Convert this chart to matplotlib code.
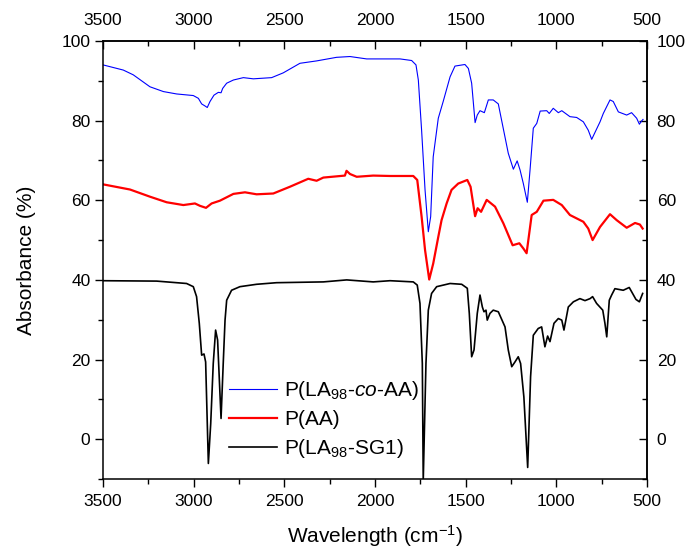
import matplotlib
matplotlib.use("Agg")
import matplotlib.pyplot as plt
from matplotlib.ticker import FixedLocator

plt.rcParams['font.family'] = ['Liberation Sans', 'DejaVu Sans']
plt.rcParams['mathtext.fontset'] = 'custom'
plt.rcParams['mathtext.rm'] = 'Liberation Sans'
plt.rcParams['mathtext.it'] = 'Liberation Sans:italic'

# axis ticks
x_major = [3500, 3000, 2500, 2000, 1500, 1000, 500]
x_minor = [3250, 2750, 2250, 1750, 1250, 750]
y_major = [0, 20, 40, 60, 80, 100]
y_minor = [-10, 10, 30, 50, 70, 90]

# P(LA98-co-AA), blue
wn_coaa = [3500, 3388, 3333, 3241, 3167, 3094, 3002, 2974, 2956, 2938, 2925, 2910, 2888,
           2864, 2849, 2840, 2818, 2781, 2726, 2671, 2570, 2506, 2414, 2322, 2212, 2138,
           2046, 1972, 1862, 1798, 1774, 1761, 1743, 1724, 1706, 1693, 1679, 1651, 1624,
           1586, 1559, 1504, 1485, 1467, 1448, 1436, 1421, 1397, 1375, 1348, 1320, 1265,
           1237, 1216, 1200, 1182, 1160, 1145, 1127, 1108, 1089, 1053, 1039, 1017, 989,
           970, 925, 888, 851, 824, 805, 781, 759, 741, 704, 686, 658, 612, 585, 557,
           542, 530, 522]
ab_coaa = [94.0, 92.7, 91.5, 88.5, 87.3, 86.7, 86.3, 85.6, 84.2, 83.7, 83.3, 84.8, 86.4,
           87.1, 87.0, 88.1, 89.4, 90.2, 90.8, 90.5, 90.8, 92.0, 94.4, 95.0, 95.9, 96.1,
           95.5, 95.5, 95.5, 95.1, 94.0, 90.2, 77.6, 62.6, 52.1, 55.9, 70.9, 80.6, 84.8,
           91.0, 93.7, 94.1, 93.1, 89.4, 79.5, 81.4, 82.5, 82.0, 85.2, 85.2, 84.2, 71.8,
           67.8, 69.9, 67.6, 64.2, 59.5, 67.6, 78.1, 79.3, 82.4, 82.5, 81.8, 83.1, 82.0,
           82.5, 81.0, 80.8, 79.7, 77.6, 75.3, 77.6, 79.7, 81.8, 85.2, 84.8, 82.2, 81.4,
           82.0, 80.6, 79.1, 79.9, 80.3]

# P(AA), red
wn_aa = [3500, 3351, 3241, 3149, 3057, 2993, 2965, 2932, 2901, 2855, 2781, 2717, 2653,
         2561, 2469, 2368, 2322, 2285, 2166, 2157, 2138, 2101, 2010, 1917, 1789, 1767,
         1743, 1724, 1701, 1679, 1651, 1633, 1605, 1578, 1541, 1491, 1473, 1448, 1434,
         1415, 1384, 1338, 1292, 1241, 1204, 1182, 1164, 1136, 1108, 1071, 1017, 970,
         925, 851, 824, 800, 759, 704, 667, 612, 566, 539, 524]
ab_aa = [64.0, 62.7, 60.9, 59.5, 58.8, 59.2, 58.6, 58.1, 59.2, 59.9, 61.6, 62.0, 61.5,
         61.7, 63.4, 65.4, 64.9, 65.7, 66.2, 67.4, 66.6, 65.9, 66.2, 66.1, 66.1, 65.1,
         55.9, 47.5, 40.1, 44.1, 50.8, 55.0, 59.2, 62.6, 64.2, 65.1, 63.4, 56.0, 58.0,
         57.1, 60.1, 58.4, 54.2, 48.7, 49.2, 47.9, 46.7, 56.3, 57.1, 59.9, 60.1, 58.8,
         56.3, 54.6, 52.9, 50.0, 53.3, 56.5, 55.0, 53.1, 54.3, 53.9, 52.9]

# P(LA98-SG1), black
wn_sg1 = [3500, 3204, 3039, 3002, 2984, 2969, 2956, 2943, 2934, 2919, 2906, 2892, 2879,
          2868, 2849, 2837, 2827, 2818, 2791, 2745, 2653, 2543, 2285, 2156, 2010, 1917,
          1789, 1767, 1752, 1739, 1734, 1719, 1706, 1688, 1660, 1586, 1522, 1491, 1480,
          1467, 1454, 1436, 1421, 1408, 1399, 1388, 1381, 1366, 1348, 1320, 1283, 1265,
          1246, 1228, 1210, 1197, 1179, 1158, 1142, 1127, 1100, 1081, 1063, 1048, 1035,
          1013, 989, 970, 958, 934, 906, 870, 842, 814, 800, 778, 744, 732, 722, 708,
          695, 677, 631, 598, 561, 542, 524]
ab_sg1 = [39.8, 39.7, 39.1, 38.3, 35.8, 29.1, 21.1, 21.4, 19.4, -6.1, 3.9, 19.0, 27.4,
          24.9, 5.2, 19.0, 29.9, 34.9, 37.4, 38.3, 38.9, 39.3, 39.5, 40.0, 39.5, 39.8,
          39.5, 38.7, 34.1, 19.0, -10.5, 19.0, 32.4, 36.6, 38.3, 39.1, 38.9, 37.9, 31.6,
          20.7, 22.4, 31.6, 36.2, 33.2, 32.0, 32.4, 29.9, 31.6, 32.4, 32.0, 28.2, 22.4,
          18.2, 19.4, 20.7, 19.0, 10.6, -7.1, 15.7, 26.1, 27.8, 28.2, 23.2, 25.9, 24.5,
          29.1, 30.3, 29.9, 27.4, 33.2, 34.5, 35.3, 34.8, 35.3, 35.8, 34.1, 32.4, 29.1,
          25.7, 34.9, 36.2, 37.8, 37.4, 38.1, 35.1, 34.5, 36.6]

labels = [r'P(LA$_{98}$-$\mathit{co}$-AA)', 'P(AA)', r'P(LA$_{98}$-SG1)']

W, H = 688, 552
fig = plt.figure(figsize=(W / 100, H / 100), dpi=100)
ax = fig.add_axes([103 / W, 1 - 479 / H, 544 / W, 438 / H])

ax.plot(wn_coaa, ab_coaa, color='#0000ff', lw=0.8, label=labels[0])
ax.plot(wn_aa, ab_aa, color='#ff0000', lw=1.6, label=labels[1])
ax.plot(wn_sg1, ab_sg1, color='black', lw=1.2, label=labels[2])

ax.set_xlim(3500, 500)
ax.set_ylim(-10, 100)


def style_ticks(axis, major, minor, direction, pad):
    axis.set_major_locator(FixedLocator(major))
    axis.set_minor_locator(FixedLocator(minor))
    axis.set_tick_params(which='both', direction=direction, labelsize=12.5,
                         width=1.0, pad=pad)
    axis.set_tick_params(which='major', length=6)
    axis.set_tick_params(which='minor', length=3.5)


style_ticks(ax.xaxis, x_major, x_minor, 'out', 5)
style_ticks(ax.yaxis, y_major, y_minor, 'out', 3)
for sp in ax.spines.values():
    sp.set_linewidth(1.1)

# top and right axes carry inward ticks, as in the original
top = ax.secondary_xaxis('top')
style_ticks(top.xaxis, x_major, x_minor, 'in', 9)
top.spines['top'].set_linewidth(1.1)

right = ax.secondary_yaxis('right')
style_ticks(right.yaxis, y_major, y_minor, 'in', 7)
right.spines['right'].set_linewidth(1.1)

ax.set_xlabel(r'Wavelength (cm$^{-1}$)', fontsize=15, labelpad=10)
ax.set_ylabel('Absorbance (%)', fontsize=15, labelpad=18)

ax.legend(loc='upper left', bbox_to_anchor=(229 / W, 1 - 379 / H),
          bbox_transform=fig.transFigure, frameon=False, fontsize=15,
          borderpad=0, borderaxespad=0, handlelength=2.3, handletextpad=0.35,
          labelspacing=0.38)

fig.savefig('out.png', dpi=100)
